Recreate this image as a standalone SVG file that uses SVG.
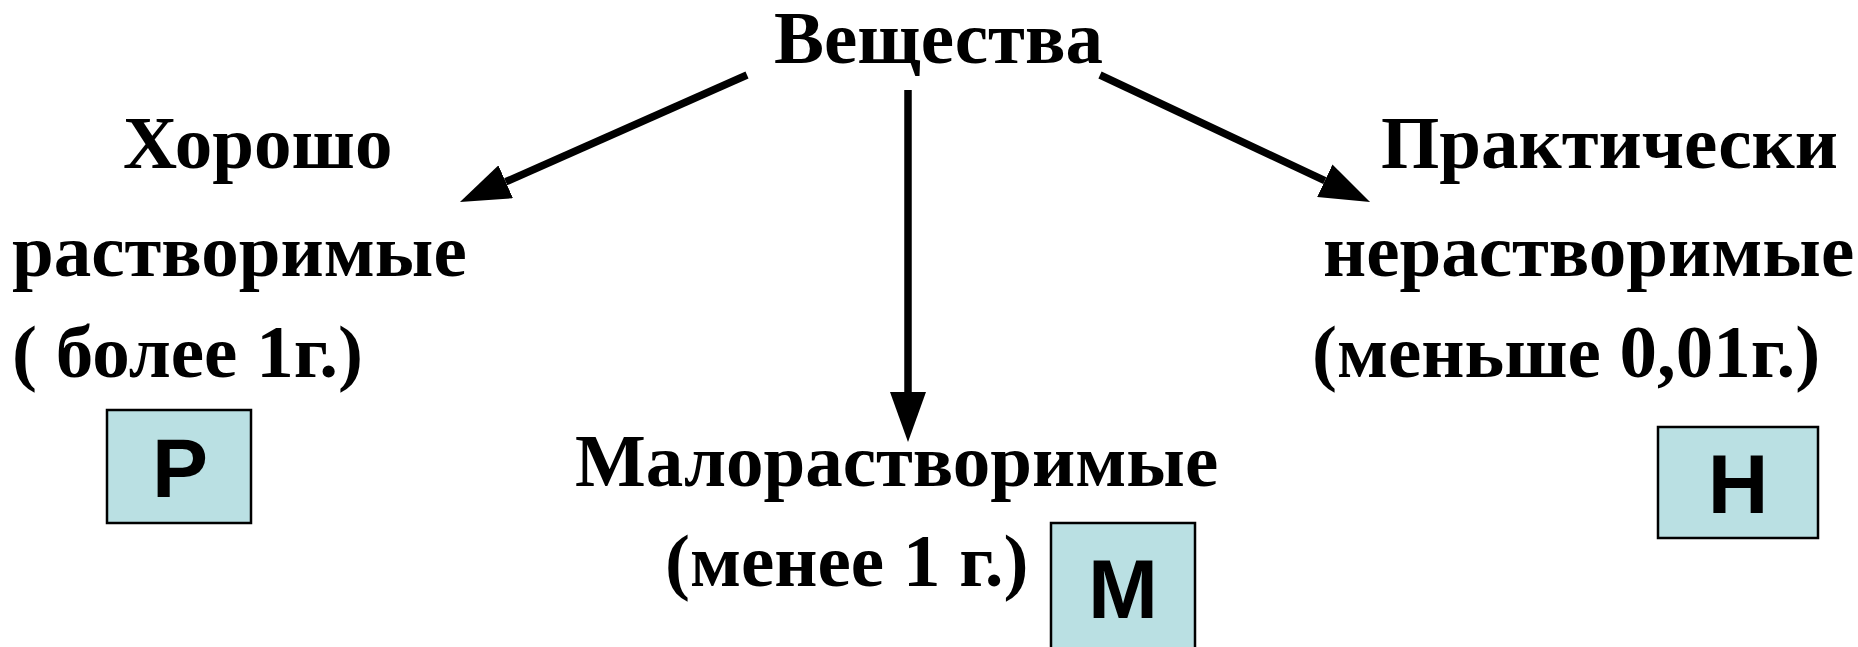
<svg xmlns="http://www.w3.org/2000/svg" width="1858" height="647" viewBox="0 0 1858 647">
<style>
.t{font-family:"Liberation Serif","Times New Roman",serif;font-weight:bold;font-size:75px;fill:#000}
.b{fill:#bae0e3;stroke:#000;stroke-width:2.5}
.l{font-family:"Liberation Sans",Arial,sans-serif;font-weight:bold;font-size:84px;fill:#000;text-anchor:middle}
.c{stroke:#000;stroke-width:7.5;fill:none}
</style>
<defs>
<marker id="ah" viewBox="0 0 50 36" markerWidth="50" markerHeight="36" refX="0" refY="18" orient="auto" markerUnits="userSpaceOnUse">
<path d="M0,0 L50,18 L0,36 Z" fill="#000"/>
</marker>
</defs>
<rect width="1858" height="647" fill="#fff"/>
<g id="connectors">
<line class="c" x1="747" y1="75" x2="505.7" y2="181.8" marker-end="url(#ah)"/>
<line class="c" x1="908" y1="90" x2="908" y2="392" marker-end="url(#ah)"/>
<line class="c" x1="1100" y1="75" x2="1324.8" y2="180.7" marker-end="url(#ah)"/>
</g>
<g id="root">
<text class="t" x="774" y="63">Вещества</text>
</g>
<g id="good">
<text class="t" x="123" y="168">Хорошо</text>
<text class="t" x="12" y="276">растворимые</text>
<text class="t" x="12" y="377">( более 1г.)</text>
<rect class="b" x="107" y="410" width="144" height="113"/>
<text class="l" x="180" y="497">Р</text>
</g>
<g id="low">
<text class="t" x="575" y="486">Малорастворимые</text>
<text class="t" x="665" y="586">(менее 1 г.)</text>
<rect class="b" x="1051" y="523" width="144" height="140"/>
<text class="l" x="1123" y="618">М</text>
</g>
<g id="insoluble">
<text class="t" x="1381" y="168">Практически</text>
<text class="t" x="1323" y="276">нерастворимые</text>
<text class="t" x="1312" y="377">(меньше 0,01г.)</text>
<rect class="b" x="1658" y="427" width="160" height="111"/>
<text class="l" x="1738" y="513">Н</text>
</g>
</svg>
